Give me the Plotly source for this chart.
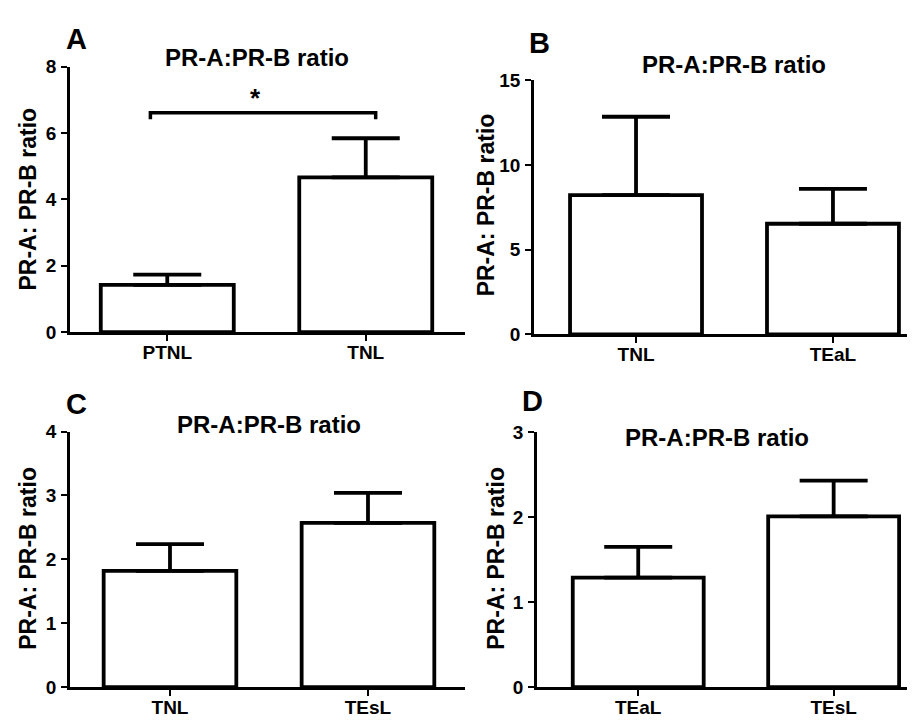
import plotly.graph_objects as go

# ---- data ----
cats_a = ["PTNL", "TNL"]
mean_a = [1.42, 4.66]
upper_a = [1.73, 5.84]

cats_b = ["TNL", "TEaL"]
mean_b = [8.22, 6.53]
upper_b = [12.84, 8.59]

cats_c = ["TNL", "TEsL"]
mean_c = [1.82, 2.57]
upper_c = [2.24, 3.04]

cats_d = ["TEaL", "TEsL"]
mean_d = [1.29, 2.01]
upper_d = [1.65, 2.43]

ymax = [8, 15, 4, 3]
ydtick = [2, 5, 1, 1]
panel_letters = ["A", "B", "C", "D"]
title_text = "PR-A:PR-B ratio"
ytitle_text = "PR-A: PR-B ratio"

# significance bracket (panel A)
bracket_x = [-0.085, 1.05]
bracket_y = [6.41, 6.61]
star_pos = (0.445, 7.05)

W, H = 915, 720
FONT = "Liberation Sans, Arial, sans-serif"

# pixel layout of each panel: (x_left, x_right, y_top, y_bottom)
boxes = [
    (62, 457, 50, 323.5),
    (526, 913, 64, 326),
    (62, 457, 426, 689.3),
    (529, 913, 426.7, 689.3),
]
xranges = [[-0.49, 1.5], [-0.518, 1.447], [-0.505, 1.49], [-0.518, 1.447]]
titles_xy = [(249, 41), (726, 48), (261, 419), (709, 432)]
letters_xy = [(68, 22), (531, 26), (68, 398), (524, 394)]
ytitle_xy = [(20, 187), (478, 193), (20, 557), (488, 557)]

fig = go.Figure()
datasets = [(cats_a, mean_a, upper_a), (cats_b, mean_b, upper_b),
            (cats_c, mean_c, upper_c), (cats_d, mean_d, upper_d)]

for i, (cats, means, ups) in enumerate(datasets):
    ax = "" if i == 0 else str(i + 1)
    fig.add_trace(go.Bar(
        x=cats, y=means,
        xaxis="x" + ax, yaxis="y" + ax,
        width=0.67,
        marker=dict(color="white", line=dict(color="black", width=3.8)),
        error_y=dict(type="data", symmetric=False,
                     array=[u - m for u, m in zip(ups, means)],
                     arrayminus=[0, 0],
                     color="black", thickness=3.8, width=34),
        showlegend=False,
    ))
    x0, x1, yt, yb = boxes[i]
    axis_common = dict(showline=True, linecolor="black", linewidth=2.5,
                       ticks="outside", ticklen=6, tickwidth=2.3, tickcolor="black",
                       showgrid=False, zeroline=False,
                       tickfont=dict(family=FONT, size=19, color="black", weight="bold"))
    fig.update_layout(**{
        "xaxis" + ax: dict(domain=[x0 / W, x1 / W], anchor="y" + ax,
                           range=xranges[i], type="category", ticklabelstandoff=-5,
                           **axis_common),
        "yaxis" + ax: dict(domain=[1 - yb / H, 1 - yt / H], anchor="x" + ax,
                           range=[0, ymax[i]], dtick=ydtick[i], tick0=0,
                           ticklabelstandoff=1, **axis_common),
    })
    tx, ty = titles_xy[i]
    fig.add_annotation(x=tx / W, y=1 - ty / H, xref="paper", yref="paper",
                       text="<b>" + title_text + "</b>", showarrow=False,
                       font=dict(family=FONT, size=24, color="black"),
                       xanchor="center", yanchor="middle")
    lx, ly = letters_xy[i]
    fig.add_annotation(x=lx / W, y=1 - ly / H, xref="paper", yref="paper",
                       text="<b>" + panel_letters[i] + "</b>", showarrow=False,
                       font=dict(family=FONT, size=29, color="black"),
                       xanchor="center", yanchor="middle")
    yx, yy = ytitle_xy[i]
    fig.add_annotation(x=yx / W, y=1 - yy / H, xref="paper", yref="paper",
                       text="<b>" + ytitle_text + "</b>", showarrow=False,
                       textangle=-90,
                       font=dict(family=FONT, size=23, color="black"),
                       xanchor="center", yanchor="middle")

# bracket + star in panel A
fig.add_shape(type="path",
              path=f"M {bracket_x[0]} {bracket_y[0]} L {bracket_x[0]} {bracket_y[1]} "
                   f"L {bracket_x[1]} {bracket_y[1]} L {bracket_x[1]} {bracket_y[0]}",
              xref="x", yref="y", line=dict(color="black", width=3.5))
fig.add_annotation(x=star_pos[0], y=star_pos[1], xref="x", yref="y",
                   text="<b>*</b>", showarrow=False,
                   font=dict(family=FONT, size=26, color="black"))

fig.update_layout(width=W, height=H, margin=dict(l=0, r=0, t=0, b=0),
                  paper_bgcolor="white", plot_bgcolor="white")

fig.write_html("out.html")
